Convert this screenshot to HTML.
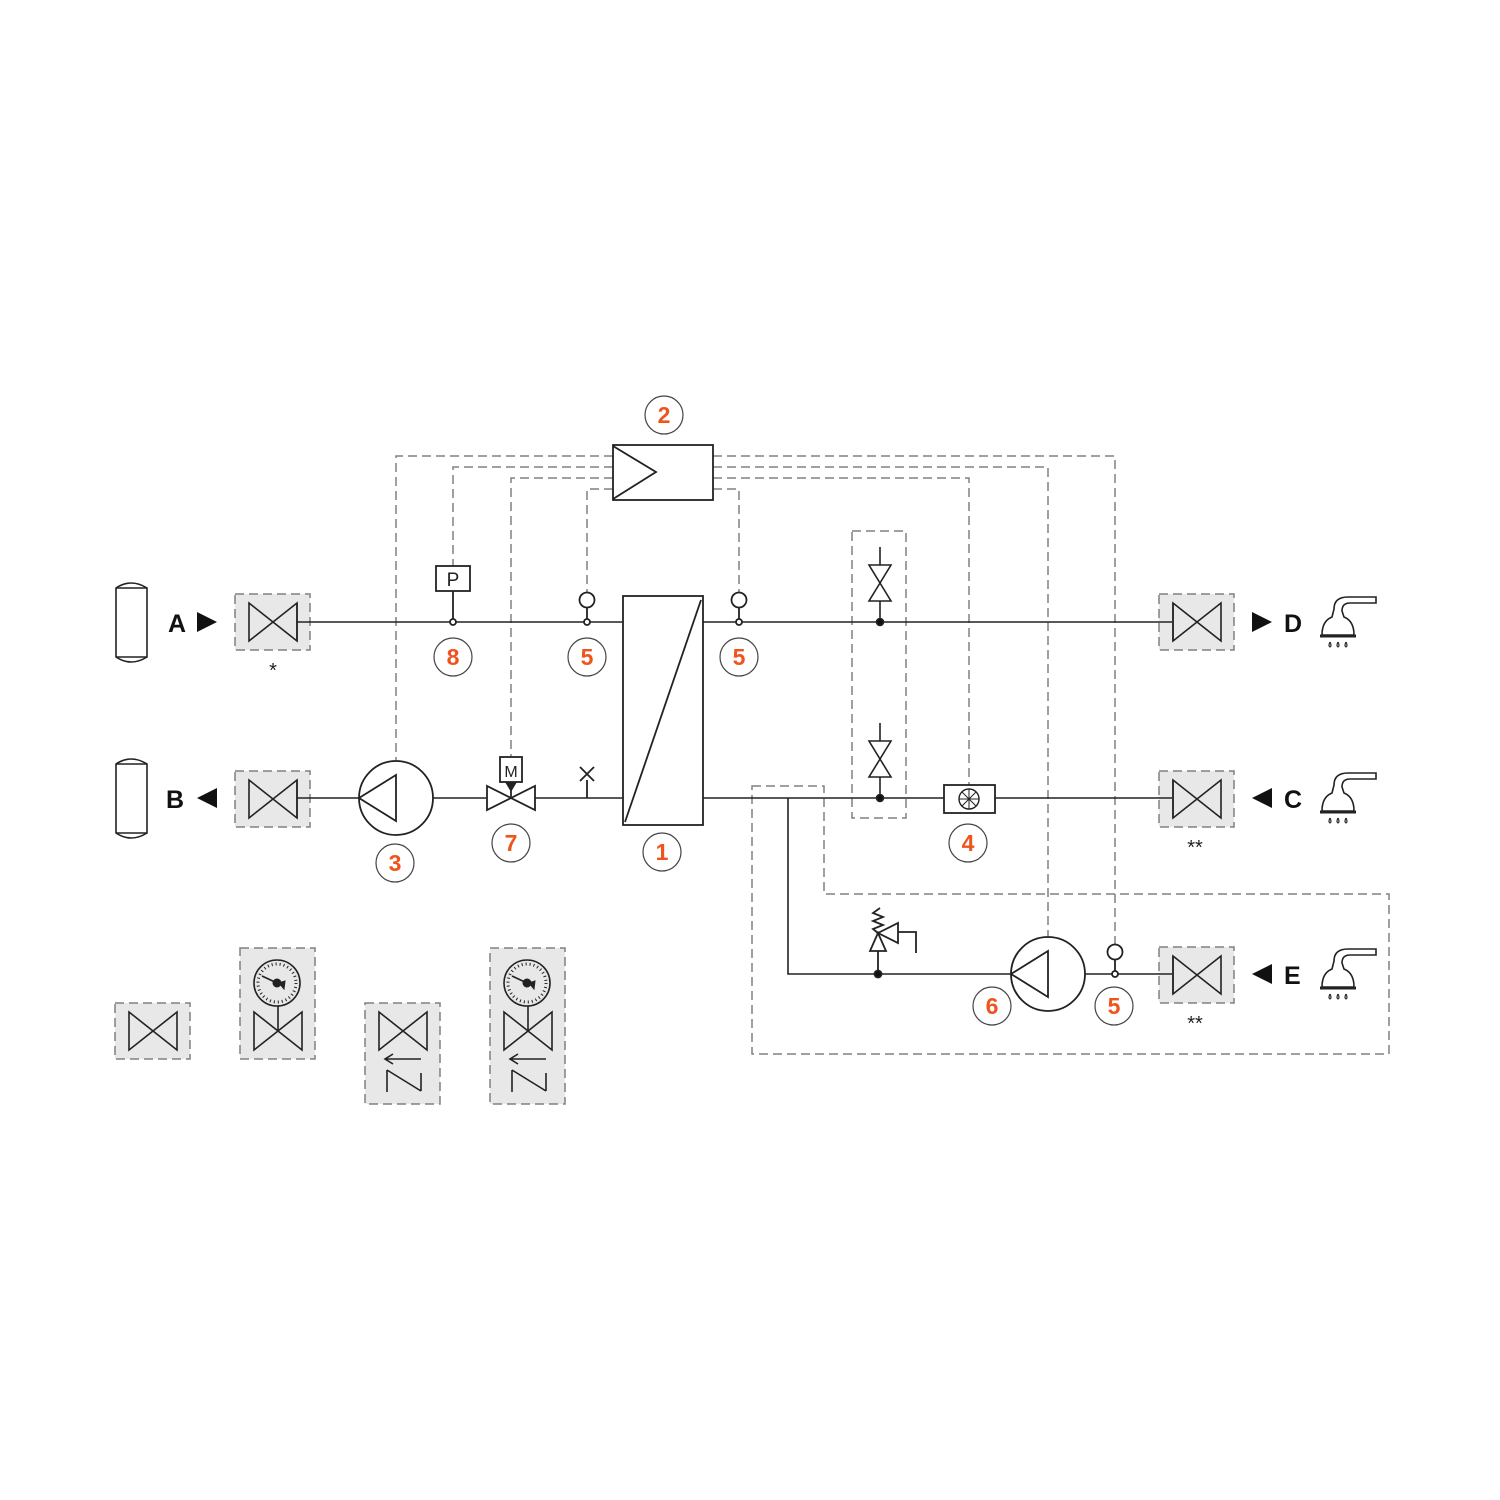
<!DOCTYPE html>
<html><head><meta charset="utf-8"><style>html,body{margin:0;padding:0;background:#fff}svg{display:block}</style></head>
<body>
<svg width="1500" height="1500" viewBox="0 0 1500 1500" xmlns="http://www.w3.org/2000/svg" font-family="Liberation Sans, sans-serif">
<defs>
<g id="valve"><polygon points="-24,-19 -24,19 24,-19 24,19" fill="none" stroke="#222" stroke-width="1.6"/></g>
<g id="shower" fill="none" stroke="#222" stroke-width="1.6">
<path d="M-18,18 Q-18,4 -8,0 L-6,-8 Q-6,-20 8,-20 L36,-20 L36,-14 L10,-14 Q2,-14 2,-6 L4,0 Q14,4 14,18 Z" fill="#fff"/>
<line x1="-20" y1="19" x2="16" y2="19" stroke-width="3"/>
<path d="M-10,25 q-2,4 0,5 q2,-1 0,-5 M-2,25 q-2,4 0,5 q2,-1 0,-5 M6,25 q-2,4 0,5 q2,-1 0,-5" stroke-width="1.2"/>
</g>
<g id="gauge" stroke="#222" fill="none">
<circle r="23" stroke-width="1.6"/>
<circle r="19" stroke-width="3" stroke-dasharray="1 3"/>
<line x1="0" y1="0" x2="-15" y2="-7" stroke-width="1.6"/>
<circle r="4" fill="#222"/><polygon points="2,0 8,-2 7,6" fill="#222"/>
</g>
<g id="cv" stroke="#222" stroke-width="1.6" fill="#fff">
<line x1="0" y1="-75" x2="0" y2="0"/>
<polygon points="-11,-57 11,-57 0,-39"/><polygon points="-11,-21 11,-21 0,-39"/>
<circle r="3.5" fill="#111"/>
</g>
</defs>

<g fill="#e8e8e8" stroke="#808080" stroke-width="1.5" stroke-dasharray="9 5">
<rect x="235" y="594" width="75" height="56"/>
<rect x="235" y="771" width="75" height="56"/>
<rect x="1159" y="594" width="75" height="56"/>
<rect x="1159" y="771" width="75" height="56"/>
<rect x="1159" y="947" width="75" height="56"/>
<rect x="115" y="1003" width="75" height="56"/>
<rect x="240" y="948" width="75" height="111"/>
<rect x="365" y="1003" width="75" height="101"/>
<rect x="490" y="948" width="75" height="156"/>
</g>

<g fill="none" stroke="#808080" stroke-width="1.5" stroke-dasharray="9 5">
<path d="M613,456 H396 V762"/>
<path d="M613,467 H453 V566"/>
<path d="M613,478 H511 V757"/>
<path d="M613,489 H587 V593"/>
<path d="M713,456 H1115 V945"/>
<path d="M713,467 H1048 V938"/>
<path d="M713,478 H969 V785"/>
<path d="M713,489 H739 V593"/>
<rect x="852" y="531" width="54" height="287"/>
<path d="M752,786 H824 V894 H1389 V1054 H752 Z"/>
</g>

<g stroke="#222" stroke-width="1.6" fill="none">
<line x1="297" y1="622" x2="623" y2="622"/>
<line x1="703" y1="622" x2="1172" y2="622"/>
<line x1="297" y1="798" x2="359" y2="798"/>
<line x1="433" y1="798" x2="487" y2="798"/>
<line x1="535" y1="798" x2="623" y2="798"/>
<line x1="703" y1="798" x2="944" y2="798"/>
<line x1="995" y1="798" x2="1172" y2="798"/>
<path d="M788,798 V974 H1011"/>
<line x1="1085" y1="974" x2="1172" y2="974"/>
</g>

<use href="#valve" x="273" y="622"/>
<use href="#valve" x="273" y="799"/>
<use href="#valve" x="1197" y="622"/>
<use href="#valve" x="1197" y="799"/>
<use href="#valve" x="1197" y="975"/>
<use href="#valve" x="153" y="1031"/>
<use href="#valve" x="278" y="1031"/>
<use href="#valve" x="403" y="1031"/>
<use href="#valve" x="528" y="1031"/>
<g stroke="#222" stroke-width="1.6"><line x1="297" y1="603" x2="297" y2="641"/><line x1="297" y1="780" x2="297" y2="818"/>
<line x1="1173" y1="603" x2="1173" y2="641"/><line x1="1173" y1="780" x2="1173" y2="818"/><line x1="1173" y1="956" x2="1173" y2="994"/></g>

<use href="#gauge" x="277" y="983"/>
<use href="#gauge" x="527" y="983"/>
<g stroke="#222" stroke-width="1.6" fill="none">
<line x1="278" y1="1006" x2="278" y2="1031"/><line x1="528" y1="1006" x2="528" y2="1031"/>
<path d="M421,1059 H385 M393,1054 L385,1059 L393,1064"/>
<path d="M387,1070 V1092 M387,1070 L421,1091 M421,1073 V1091"/>
<path d="M546,1059 H510 M518,1054 L510,1059 L518,1064"/>
<path d="M512,1070 V1092 M512,1070 L546,1091 M546,1073 V1091"/>
</g>

<g stroke="#222" stroke-width="1.6" fill="#fff">
<path d="M116,588 Q131,578 147,588 V657 Q131,667 116,657 Z"/>
<line x1="116" y1="588" x2="147" y2="588"/><line x1="116" y1="657" x2="147" y2="657"/>
<path d="M116,764 Q131,754 147,764 V833 Q131,843 116,833 Z"/>
<line x1="116" y1="764" x2="147" y2="764"/><line x1="116" y1="833" x2="147" y2="833"/>
</g>

<g stroke="#222" stroke-width="1.8" fill="#fff">
<rect x="623" y="596" width="80" height="229"/>
<line x1="625" y1="822" x2="701" y2="600"/>
<rect x="613" y="445" width="100" height="55"/>
<polyline points="613,446 656,472 613,499" fill="none"/>
<circle cx="396" cy="798" r="37"/>
<polygon points="359,798 396,775 396,821" fill="none"/>
<circle cx="1048" cy="974" r="37"/>
<polygon points="1011,974 1048,951 1048,997" fill="none"/>
<polygon points="487,786 487,810 535,786 535,810"/>
<rect x="500" y="757" width="22" height="25"/>
<line x1="511" y1="782" x2="511" y2="798"/>
<rect x="436" y="566" width="34" height="25"/>
<line x1="453" y1="591" x2="453" y2="622"/>
<rect x="944" y="785" width="51" height="28"/>
<circle cx="969" cy="799" r="10" fill="none" stroke-width="1.4"/>
<path d="M969,789 V809 M959,799 H979 M962,792 L976,806 M976,792 L962,806" stroke-width="1"/>
<path d="M587,798 V780 M580,767 L594,781 M594,767 L580,781" fill="none"/>
<line x1="587" y1="608" x2="587" y2="622"/><circle cx="587" cy="600" r="7.5"/><circle cx="587" cy="622" r="3"/>
<line x1="739" y1="608" x2="739" y2="622"/><circle cx="739" cy="600" r="7.5"/><circle cx="739" cy="622" r="3"/>
<line x1="1115" y1="960" x2="1115" y2="974"/><circle cx="1115" cy="952" r="7.5"/><circle cx="1115" cy="974" r="3"/>
<circle cx="453" cy="622" r="3"/>
<line x1="878" y1="951" x2="878" y2="974"/>
<polygon points="870,951 886,951 878,933"/>
<polygon points="878,933 898,923 898,943"/>
<path d="M898,932 H916 V953 M878,933 L873,929 L883,925 L873,921 L883,917 L873,913 L880,908" fill="none"/>
<circle cx="878" cy="974" r="3.5" fill="#111"/>
</g>
<text x="453" y="586" font-size="19" text-anchor="middle" fill="#222">P</text>
<text x="511" y="777" font-size="16" text-anchor="middle" fill="#222">M</text>
<polygon points="505,782 517,782 511,792" fill="#222"/>

<use href="#cv" x="880" y="622"/>
<use href="#cv" x="880" y="798"/>

<g font-weight="bold" font-size="25" fill="#111">
<text x="168" y="632">A</text><polygon points="197,612 197,632 217,622" fill="#111"/>
<text x="166" y="808">B</text><polygon points="217,788 217,808 197,798" fill="#111"/>
<polygon points="1252,612 1252,632 1272,622" fill="#111"/><text x="1284" y="632">D</text>
<polygon points="1272,788 1272,808 1252,798" fill="#111"/><text x="1284" y="808">C</text>
<polygon points="1272,964 1272,984 1252,974" fill="#111"/><text x="1284" y="984">E</text>
</g>
<use href="#shower" x="1340" y="617"/>
<use href="#shower" x="1340" y="793"/>
<use href="#shower" x="1340" y="969"/>
<g font-size="20" fill="#222" text-anchor="middle">
<text x="273" y="677">*</text>
<text x="1195" y="854">**</text>
<text x="1195" y="1030">**</text>
</g>

<g fill="#fff" stroke="#444" stroke-width="1.2">
<circle cx="453" cy="657" r="19"/><circle cx="587" cy="657" r="19"/><circle cx="739" cy="657" r="19"/>
<circle cx="664" cy="415" r="19"/><circle cx="395" cy="863" r="19"/><circle cx="511" cy="843" r="19"/>
<circle cx="662" cy="852" r="19"/><circle cx="968" cy="843" r="19"/><circle cx="992" cy="1006" r="19"/>
<circle cx="1114" cy="1006" r="19"/>
</g>
<g fill="#f0541e" font-weight="bold" font-size="23" text-anchor="middle">
<text x="453" y="665">8</text><text x="587" y="665">5</text><text x="739" y="665">5</text>
<text x="664" y="423">2</text><text x="395" y="871">3</text><text x="511" y="851">7</text>
<text x="662" y="860">1</text><text x="968" y="851">4</text><text x="992" y="1014">6</text>
<text x="1114" y="1014">5</text>
</g>
</svg>
</body></html>
